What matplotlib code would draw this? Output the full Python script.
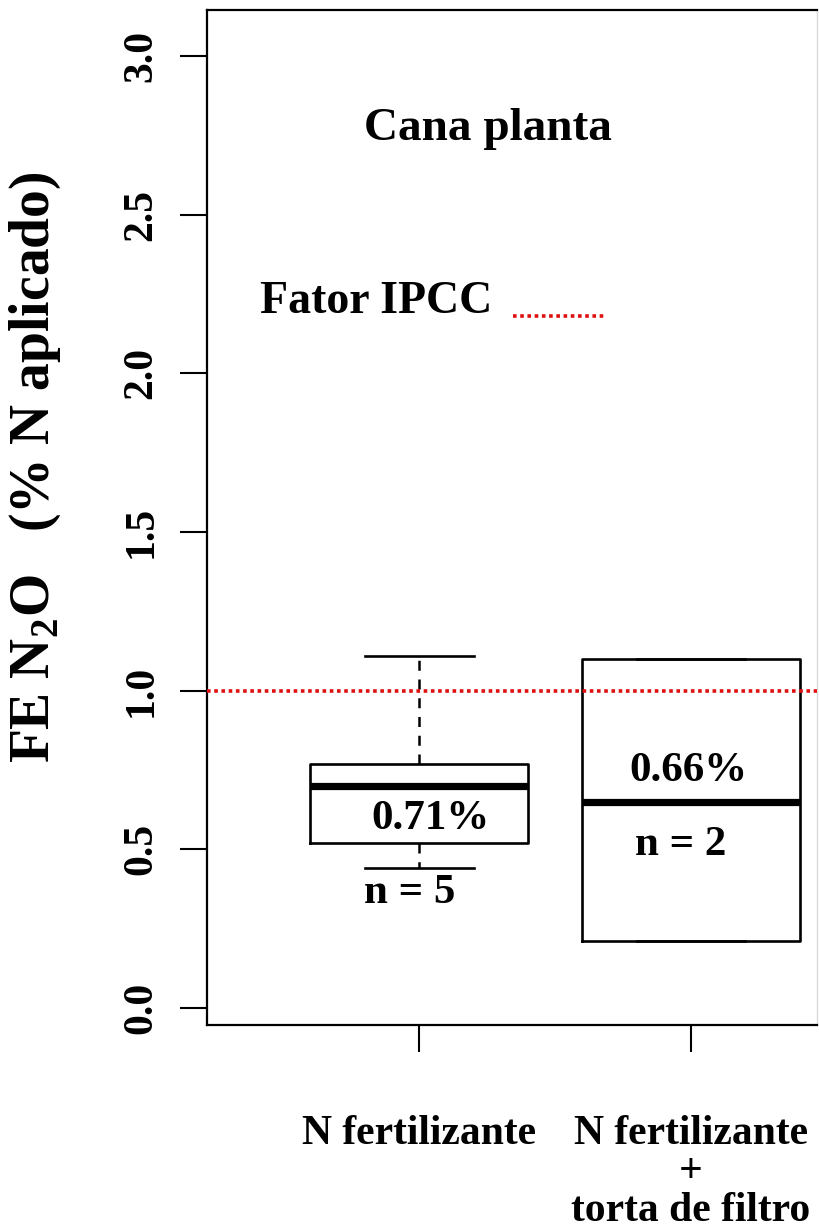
import matplotlib
matplotlib.use('Agg')
import matplotlib.pyplot as plt

plt.rcParams['font.family'] = ['Liberation Serif', 'DejaVu Serif']
plt.rcParams['font.weight'] = 'bold'
plt.rcParams['mathtext.fontset'] = 'custom'
plt.rcParams['mathtext.rm'] = 'Liberation Serif:bold'
plt.rcParams['mathtext.bf'] = 'Liberation Serif:bold'

# groups on the x axis
groups = ['N fertilizante', 'N fertilizante\n+\ntorta de filtro']
# box stats (% of applied N)
whislo = [0.44, 0.21]
q1 = [0.52, 0.21]
med = [0.70, 0.65]
q3 = [0.77, 1.10]
whishi = [1.11, 1.10]
median_labels = ['0.71%', '0.66%']
n_labels = ['n = 5', 'n = 2']
ipcc_factor = 1.0
yticks = [0.0, 0.5, 1.0, 1.5, 2.0, 2.5, 3.0]

# where the little labels sit (data coords)
median_label_xy = [(1.04, 0.596), (1.99, 0.747)]
n_label_xy = [(0.967, 0.362), (1.96, 0.514)]

RED = '#de1010'

W, H = 819, 1229
fig = plt.figure(figsize=(W / 100, H / 100), dpi=100)
ax = fig.add_axes([207 / W, 1 - 1025 / H, (817 - 207) / W, (1025 - 10) / H])

stats = []
for i in range(len(groups)):
    stats.append({'whislo': whislo[i], 'q1': q1[i], 'med': med[i],
                  'q3': q3[i], 'whishi': whishi[i], 'fliers': []})

ax.bxp(stats, positions=[1, 2], widths=0.8, showfliers=False,
       boxprops=dict(color='black', linewidth=1.9),
       medianprops=dict(color='black', linewidth=5.2, solid_capstyle='butt'),
       whiskerprops=dict(color='black', linewidth=1.8, linestyle=(0, (4, 3.5))),
       capprops=dict(color='black', linewidth=1.9))

# IPCC default emission factor
ax.axhline(ipcc_factor, color=RED, linewidth=2.6, linestyle=(0, (1, 1)), zorder=4)

for (x, y), s in zip(median_label_xy, median_labels):
    ax.text(x, y, s, ha='center', va='center', fontsize=31, fontweight='bold')
for (x, y), s in zip(n_label_xy, n_labels):
    ax.text(x, y, s, ha='center', va='center', fontsize=31, fontweight='bold')

ax.text(0.4607, 0.872, 'Cana planta', transform=ax.transAxes, ha='center',
        va='baseline', fontsize=34, fontweight='bold')
ax.text(0.087, 0.7015, 'Fator IPCC', transform=ax.transAxes, ha='left',
        va='baseline', fontsize=33, fontweight='bold')
ax.plot([0.502, 0.652], [0.6985, 0.6985], transform=ax.transAxes,
        color=RED, linewidth=2.6, linestyle=(0, (1, 1)))

ax.set_xlim(0.22, 2.463)
ax.set_ylim(-0.054, 3.145)
ax.set_yticks(yticks)
ax.set_yticklabels([f'{v:.1f}' for v in yticks], rotation=90, va='center', fontsize=30)
ax.set_xticks([1, 2])
ax.set_xticklabels(groups, fontsize=30, linespacing=1.02)
ax.tick_params(axis='both', length=19.5, width=1.5, direction='out', colors='black')
ax.tick_params(axis='y', pad=14)
ax.tick_params(axis='x', pad=45)

for side in ['left', 'bottom', 'top']:
    ax.spines[side].set_linewidth(1.6)
ax.spines['right'].set_color('#d9d9d9')
ax.spines['right'].set_linewidth(1.0)

fig.text(35 / W, 1 - 467 / H, r'FE N$_\mathbf{2}$O   (% N aplicado)', rotation=90,
         ha='center', va='center', fontsize=40, fontweight='bold')

fig.savefig('out.png', dpi=100)
